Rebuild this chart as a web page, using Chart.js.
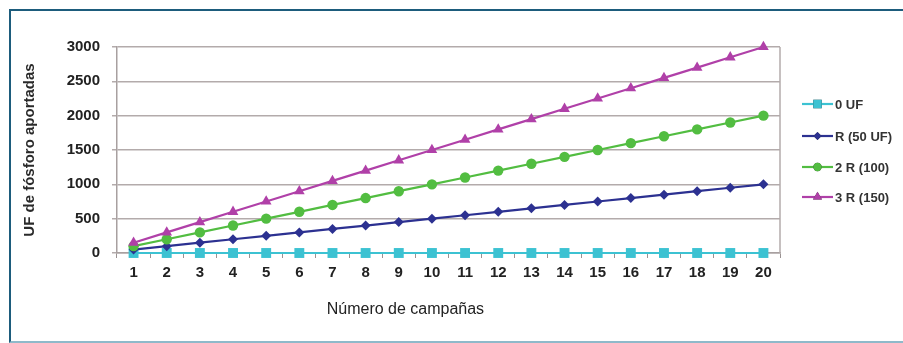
<!DOCTYPE html>
<html>
<head>
<meta charset="utf-8">
<script src="https://cdn.jsdelivr.net/npm/chart.js@4"></script>
<style>
  html, body { margin: 0; padding: 0; background: #ffffff; }
  #wrap { position: relative; width: 903px; height: 343px; overflow: hidden; background: #ffffff; }
  #frame { position: absolute; left: 9px; top: 9px; width: 894px; height: 330px;
           border-top: 2px solid #1d5c7c; border-left: 2px solid #1d5c7c; border-bottom: 2px solid #8fb9ca; box-sizing: content-box; }
  canvas { position: absolute; left: 0; top: 0; }
</style>
</head>
<body>
<div id="wrap">
  <div id="frame"></div>
  <canvas id="c" width="903" height="343"></canvas>
</div>
<script>
const categories = ['1','2','3','4','5','6','7','8','9','10','11','12','13','14','15','16','17','18','19','20'];
const seriesNames = ['0 UF', 'R (50 UF)', '2 R (100)', '3 R (150)'];
const uf0  = [0,0,0,0,0,0,0,0,0,0,0,0,0,0,0,0,0,0,0,0];
const r50  = [50,100,150,200,250,300,350,400,450,500,550,600,650,700,750,800,850,900,950,1000];
const r100 = [100,200,300,400,500,600,700,800,900,1000,1100,1200,1300,1400,1500,1600,1700,1800,1900,2000];
const r150 = [150,300,450,600,750,900,1050,1200,1350,1500,1650,1800,1950,2100,2250,2400,2550,2700,2850,3000];
const yTicks = [0,500,1000,1500,2000,2500,3000];
const yTitle = 'UF de fósforo aportadas';
const xTitle = 'Número de campañas';

const colors = ['#3cc2d2', '#2c3191', '#52bd41', '#b040a8'];
const styles = ['rect', 'rectRot', 'circle', 'triangle'];
const radii = [7, 5, 5.2, 6.2];
const values = [uf0, r50, r100, r150];

const datasets = values.map((v, i) => ({
  label: seriesNames[i],
  data: v,
  borderColor: colors[i],
  backgroundColor: colors[i],
  pointStyle: styles[i],
  pointRadius: radii[i],
  pointBorderWidth: 0,
  borderWidth: 2.2,
  tension: 0,
  clip: false,
  order: 4 - i
}));

const extras = {
  id: 'extras',
  afterDraw(chart) {
    const ctx = chart.ctx;
    const a = chart.chartArea;
    ctx.save();
    // x axis title
    ctx.fillStyle = '#222222';
    ctx.font = '16px "Liberation Sans", Arial, sans-serif';
    ctx.textAlign = 'center';
    ctx.textBaseline = 'middle';
    ctx.fillText(xTitle, a.left + (a.right - a.left) * 0.435, 310);
    // legend
    const ly = [104, 136, 167, 197];
    const lx0 = a.right + 22, lx1 = a.right + 53;
    ctx.font = 'bold 13px "Liberation Sans", Arial, sans-serif';
    ctx.textAlign = 'left';
    seriesNames.forEach((name, i) => {
      ctx.strokeStyle = colors[i];
      ctx.lineWidth = 2.2;
      ctx.beginPath();
      ctx.moveTo(lx0, ly[i]);
      ctx.lineTo(lx1, ly[i]);
      ctx.stroke();
      Chart.helpers.drawPoint(ctx, {pointStyle: styles[i], radius: radii[i] - 1, borderWidth: 0}, (lx0 + lx1) / 2, ly[i]);
      ctx.fillStyle = colors[i];
      ctx.fill();
      ctx.fillStyle = '#333333';
      ctx.fillText(name, lx1 + 2, ly[i] + 1);
    });
    ctx.restore();
  },
  beforeDatasetsDraw(chart) {
    const ctx = chart.ctx;
    const a = chart.chartArea;
    ctx.save();
    ctx.strokeStyle = '#b3abab';
    ctx.lineWidth = 1.5;
    ctx.beginPath();
    ctx.moveTo(a.right, a.top);
    ctx.lineTo(a.right, a.bottom);
    ctx.stroke();
    ctx.restore();
  }
};

new Chart(document.getElementById('c'), {
  type: 'line',
  data: { labels: categories, datasets },
  plugins: [extras],
  options: {
    responsive: false,
    animation: false,
    layout: { padding: { left: 0, top: 47, right: 123, bottom: 0 } },
    plugins: { legend: { display: false }, tooltip: { enabled: false } },
    scales: {
      x: {
        offset: true,
        afterFit: s => { s.height = 90; },
        grid: { display: true, drawOnChartArea: false, drawTicks: true, tickLength: 5, offset: true, color: '#9a9292', lineWidth: 1 },
        border: { display: true, color: '#a8a0a0', width: 1.5 },
        ticks: { color: '#222222', padding: 6, maxRotation: 0, autoSkip: false,
                 font: { family: '"Liberation Sans", Arial, sans-serif', size: 15, weight: 'bold' } }
      },
      y: {
        min: 0, max: 3000,
        afterFit: s => { s.width = 117; },
        afterBuildTicks: s => { s.ticks = yTicks.map(v => ({ value: v })); },
        grid: { color: '#b3abab', lineWidth: 1.5, tickLength: 5, drawTicks: true },
        border: { display: true, color: '#a8a0a0', width: 1.5 },
        ticks: { color: '#222222', padding: 12, callback: v => String(v),
                 font: { family: '"Liberation Sans", Arial, sans-serif', size: 15, weight: 'bold' } },
        title: { display: true, text: yTitle, color: '#2a2a2a', padding: { top: 21, bottom: 0 },
                 font: { family: '"Liberation Sans", Arial, sans-serif', size: 15, weight: 'bold' } }
      }
    }
  }
});
</script>
</body>
</html>
